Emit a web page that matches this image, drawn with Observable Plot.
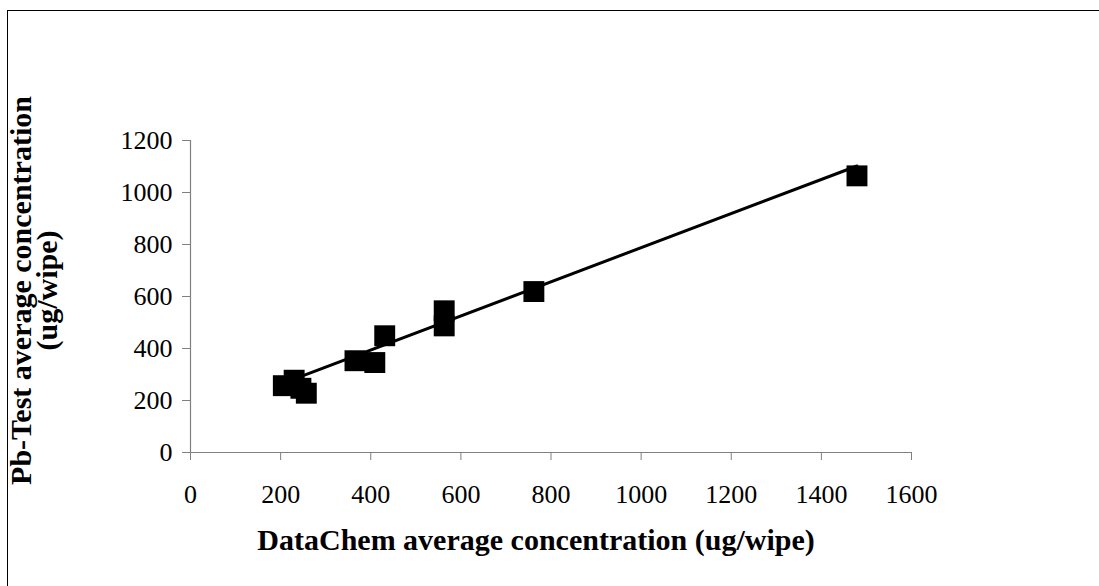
<!DOCTYPE html>
<html>
<head>
<meta charset="utf-8">
<script src="https://cdn.jsdelivr.net/npm/d3@7"></script>
<script src="https://cdn.jsdelivr.net/npm/@observablehq/plot@0.6"></script>
<style>
  html, body { margin: 0; padding: 0; background: #fff; overflow: hidden; }
  #wrap { position: relative; width: 1099px; height: 586px; }
  #border { position: absolute; left: 7px; top: 10px; width: 1200px; height: 700px;
            border-left: 1.5px solid #000; border-top: 1.5px solid #000; pointer-events: none; }
  svg text { font-family: 'Liberation Serif', 'Times New Roman', serif; }
</style>
</head>
<body>
<div id="wrap"><div id="border"></div></div>
<script>
// DataChem average concentration (ug/wipe)
const dataChem = [206, 230, 245, 257, 365, 409, 431, 563, 563, 762, 1479];
// Pb-Test average concentration (ug/wipe)
const pbTest   = [257, 278, 247, 228, 353, 346, 449, 545, 487, 619, 1064];
// Linear trend line endpoints
const trendX = [206, 1479];
const trendY = [267, 1102];
const xTicks = [0, 200, 400, 600, 800, 1000, 1200, 1400, 1600];
const yTicks = [0, 200, 400, 600, 800, 1000, 1200];

const points = dataChem.map((x, i) => ({x, y: pbTest[i]}));
const trend = trendX.map((x, i) => ({x, y: trendY[i]}));

const font = "'Liberation Serif', 'Times New Roman', serif";
const fmt = d3.format("d");

const chart = Plot.plot({
  width: 1099,
  height: 586,
  marginLeft: 190,
  marginRight: 188,
  marginTop: 140,
  marginBottom: 134,
  style: {fontFamily: font, fontSize: "26px", color: "#000", background: "transparent"},
  x: {domain: [0, 1600], ticks: xTicks},
  y: {domain: [0, 1200], ticks: yTicks},
  marks: [
    Plot.axisX({ticks: xTicks, tickFormat: fmt, tickSize: 8, tickPadding: 24, stroke: "#808080", fill: "#000", fontSize: 26, fontFamily: font, label: null}),
    Plot.axisY({ticks: yTicks, tickFormat: fmt, tickSize: 8, tickPadding: 10, stroke: "#808080", fill: "#000", fontSize: 26, fontFamily: font, label: null}),
    Plot.ruleY([0], {stroke: "#808080", strokeWidth: 1.2}),
    Plot.ruleX([0], {stroke: "#808080", strokeWidth: 1.2}),
    Plot.line(trend, {x: "x", y: "y", stroke: "#000", strokeWidth: 3}),
    Plot.dot(points, {x: "x", y: "y", symbol: "square", r: 11.8, fill: "#000", stroke: null}),
    Plot.text(["DataChem average concentration (ug/wipe)"], {
      frameAnchor: "bottom", dy: 97, dx: -15, fontWeight: "bold", fontSize: 30, fontFamily: font, fill: "#000", textAnchor: "middle"
    }),
    Plot.text(["Pb-Test average concentration\n(ug/wipe)"], {
      frameAnchor: "left", dx: -155, dy: -6, rotate: -90, lineHeight: 0.88, textAnchor: "middle",
      fontWeight: "bold", fontSize: 30, fontFamily: font, fill: "#000"
    })
  ]
});
chart.style.position = "absolute";
chart.style.left = "0px";
chart.style.top = "0px";
document.getElementById("wrap").appendChild(chart);
</script>
</body>
</html>
